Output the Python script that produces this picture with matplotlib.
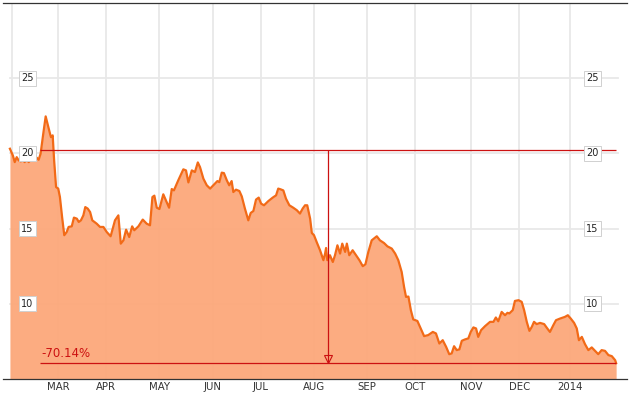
"""Price history chart with drawdown marker (orange area, 2013-2014)."""

import matplotlib

matplotlib.use("Agg")
import matplotlib.pyplot as plt
import matplotlib.transforms as mtransforms

# trading-day index (0 = first trading day of February) and closing price
day = [
    -0.9, 0.3, 1.1, 1.9, 2.7, 3.6, 4.4, 5.2, 6.1, 6.9, 7.7, 8.5, 9.4, 10.2, 11.0, 11.8,
    12.9, 13.9, 15.0, 15.7, 16.1, 16.8, 17.4, 18.2, 19.1, 19.8, 20.7, 21.6, 22.6, 23.4,
    24.7, 25.6, 26.8, 27.6, 28.5, 29.5, 30.3, 31.3, 32.3, 33.2, 35.0, 36.4, 37.8, 39.2,
    40.8, 42.6, 44.0, 45.0, 46.1, 47.2, 48.5, 49.7, 50.6, 52.3, 54.1, 55.7, 57.1, 58.1,
    58.9, 59.9, 61.0, 62.6, 63.7, 65.0, 66.1, 67.0, 68.8, 70.9, 72.0, 73.0, 74.4, 75.7,
    76.9, 77.8, 79.2, 80.6, 82.0, 83.3, 85.0, 85.8, 86.8, 87.7, 88.9, 89.9, 90.9, 91.6,
    92.7, 94.1, 95.1, 96.4, 97.8, 98.8, 99.9, 101.0, 102.1, 103.1, 104.3, 106.1, 107.9,
    109.3, 110.2, 111.2, 112.3, 113.4, 114.8, 116.4, 117.9, 119.2, 120.3, 121.3, 122.2,
    123.4, 124.1, 125.0, 126.1, 127.5, 128.9, 129.6, 130.0, 130.5, 131.6, 132.8, 133.7,
    134.7, 135.8, 136.7, 137.9, 138.6, 139.6, 141.0, 142.4, 143.8, 145.2, 146.3, 147.5,
    148.9, 151.0, 152.3, 154.0, 155.4, 157.2, 158.6, 159.9, 161.3, 162.3, 163.1, 164.1,
    165.1, 166.1, 167.8, 169.2, 170.6, 172.3, 174.2, 175.5, 176.9, 178.3, 179.7, 181.0,
    182.0, 183.0, 184.1, 185.2, 186.2, 187.5, 188.9, 189.9, 191.0, 192.1, 193.0, 194.2,
    195.8, 196.8, 197.9, 199.3, 200.3, 201.3, 202.7, 204.1, 205.1, 205.9, 207.3, 208.2,
    209.7, 211.0, 212.0, 213.1, 214.2, 215.2, 216.1, 217.2, 218.6, 220.3, 221.6, 222.7,
    224.1, 225.2, 226.9, 228.9, 230.1, 231.3, 232.7, 233.8, 234.7, 235.9, 237.2, 238.6,
    240.0, 241.4, 242.7, 244.1, 245.5, 246.9, 248.3, 249.7, 250.1,
]
price = [
    20.31, 19.87, 19.42, 19.75, 19.54, 19.47, 19.58, 19.42, 19.58, 19.42, 19.58, 19.54,
    19.80, 19.71, 19.58, 19.98, 21.31, 22.46, 21.75, 21.31, 21.08, 21.20, 19.54, 17.76,
    17.66, 17.10, 15.77, 14.56, 14.77, 15.11, 15.15, 15.73, 15.66, 15.44, 15.55, 15.88,
    16.43, 16.33, 16.10, 15.55, 15.33, 15.11, 15.11, 14.77, 14.49, 15.55, 15.88, 14.00,
    14.22, 14.93, 14.44, 15.15, 14.89, 15.15, 15.60, 15.33, 15.22, 17.10, 17.19, 16.39,
    16.30, 17.28, 16.88, 16.39, 17.63, 17.54, 18.21, 18.94, 18.87, 18.07, 18.87, 18.76,
    19.40, 19.09, 18.32, 17.88, 17.66, 17.88, 18.16, 18.09, 18.72, 18.69, 18.21, 17.88,
    18.16, 17.43, 17.59, 17.50, 17.14, 16.33, 15.55, 16.04, 16.17, 16.93, 17.06, 16.66,
    16.55, 16.83, 17.06, 17.21, 17.66, 17.61, 17.54, 16.99, 16.55, 16.39, 16.22, 16.00,
    16.33, 16.55, 16.55, 15.66, 14.71, 14.56, 14.11, 13.56, 12.90, 13.34, 13.71, 12.90,
    13.23, 12.78, 13.23, 13.89, 13.34, 14.00, 13.45, 14.00, 13.23, 13.56, 13.23, 12.90,
    12.50, 12.63, 13.45, 14.22, 14.49, 14.22, 14.04, 13.82, 13.67, 13.34, 12.90, 12.12,
    11.12, 10.46, 10.48, 9.58, 8.96, 8.86, 8.36, 7.85, 7.92, 8.13, 8.03, 7.36, 7.58, 7.14,
    6.65, 6.70, 7.18, 6.92, 6.97, 7.54, 7.63, 7.70, 8.13, 8.43, 8.36, 7.80, 8.25, 8.51,
    8.65, 8.80, 8.80, 9.09, 8.84, 9.46, 9.24, 9.40, 9.36, 9.58, 10.19, 10.24, 10.13, 9.58,
    8.80, 8.20, 8.47, 8.80, 8.65, 8.73, 8.65, 8.36, 8.13, 8.58, 8.91, 9.02, 9.13, 9.24,
    9.02, 8.73, 8.36, 7.58, 7.80, 7.32, 6.92, 7.10, 6.87, 6.65, 6.92, 6.87, 6.59, 6.52,
    6.25, 6.05,
]

month_pos = [0, 19, 39, 61, 83, 103, 125, 147, 167, 190, 210, 231]
month_labels = ["", "MAR", "APR", "MAY", "JUN", "JUL", "AUG", "SEP", "OCT", "NOV", "DEC", "2014"]
y_ticks = [10, 15, 20, 25]

ref_day = 11.6       # start of the drawdown measurement
ref_high = 20.25
change_pct = -70.14
marker_day = 130.9   # vertical drop marker
ref_low = ref_high * (1 + change_pct / 100)

LINE = "#f26a17"
FILL = "#fca87a"
RED = "#cc1111"
GRID = "#e8e8e8"

fig = plt.figure(figsize=(6.3, 3.94), dpi=100)
ax = fig.add_axes([3 / 630, 15 / 394, 624 / 630, 376 / 394])
ax.set_xlim(-3.77, 254.6)
ax.set_ylim(5, 30)

# grid
for p in month_pos:
    ax.axvline(p, color=GRID, lw=1.3, zorder=0)
for v in y_ticks:
    ax.axhline(v, xmin=0.011, xmax=0.9856, color=GRID, lw=1.3, zorder=0)

# price area
ax.fill_between(day, price, 5, color=FILL, alpha=0.95, lw=0, zorder=1)
ax.plot(day, price, color=LINE, lw=1.6, zorder=2, solid_joinstyle="round")

# drawdown marker
last_day = day[-1]
ax.hlines([ref_high, ref_low], ref_day, last_day, color=RED, lw=0.9, zorder=3)
ax.vlines(marker_day, ref_low, ref_high, color=RED, lw=0.9, zorder=3)
ax.plot(marker_day, ref_low + 0.3, marker="v", ms=6, mfc="none", mec=RED, mew=0.8, zorder=3)
ax.text(ref_day + 0.6, ref_low + 0.2, f"{change_pct:.2f}%", color=RED, fontsize=8.5,
        ha="left", va="bottom", zorder=4)

# y labels drawn inside the plot, boxed
trans = mtransforms.blended_transform_factory(ax.transAxes, ax.transData)
box = dict(boxstyle="square,pad=0.25", fc="white", ec="#d0d0d0", lw=0.7)
for v in y_ticks:
    for xa in (0.0393, 0.9444):
        ax.text(xa, v, str(v), transform=trans, ha="center", va="center",
                fontsize=7, color="#222222", bbox=box, zorder=5)

ax.set_xticks(month_pos)
ax.set_xticklabels(month_labels, fontsize=7.3, color="#333333")
ax.tick_params(axis="x", length=0, pad=2.5)
ax.set_yticks([])

for side in ("left", "right"):
    ax.spines[side].set_visible(False)
ax.spines["top"].set_color("#333333")
ax.spines["top"].set_linewidth(0.9)
ax.spines["bottom"].set_color("#333333")
ax.spines["bottom"].set_linewidth(0.9)

fig.savefig("out.png", dpi=100)
